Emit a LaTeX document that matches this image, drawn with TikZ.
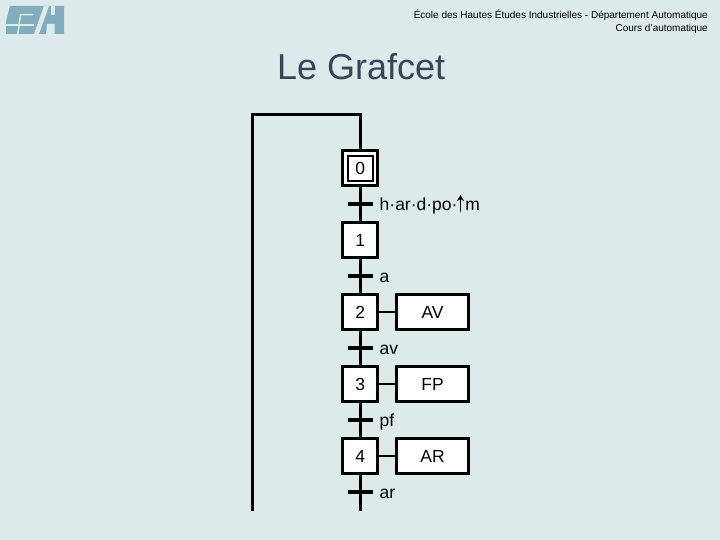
\documentclass[tikz,border=0pt]{standalone}
\usepackage{fontspec}
\usetikzlibrary{arrows.meta}
\setmainfont{Liberation Sans}
\definecolor{bgc}{HTML}{DDEAEA}
\definecolor{logoc}{HTML}{82ADBD}
\definecolor{titlec}{HTML}{3C425A}
\tikzset{
 stepbox/.style={draw=black,fill=white,line width=3pt,minimum width=35pt,minimum height=35pt,inner sep=0pt,font=\fontsize{17.5}{18}\selectfont},
 initbox/.style={draw=black,fill=white,line width=2pt,minimum width=24.6pt,minimum height=24.6pt,inner sep=0pt,font=\fontsize{17.5}{18}\selectfont},
 actbox/.style={draw=black,fill=white,line width=3pt,minimum width=71.7pt,minimum height=35pt,inner sep=0pt,font=\fontsize{17.5}{18}\selectfont},
 link/.style={line width=3pt,draw=black},
 thinlink/.style={line width=1.7pt,draw=black},
 trans/.style={line width=4.4pt,draw=black},
 cond/.style={anchor=west,inner sep=0pt,font=\fontsize{17.5}{18}\selectfont},
}
\begin{document}
\begin{tikzpicture}[x=1pt,y=-1pt]
\useasboundingbox (0,0) rectangle (720,540);
\fill[bgc] (0,0) rectangle (720,540);
% logo
\fill[logoc] (10,6) -- (64,6) -- (64,34) -- (6,34) -- (6,22) -- cycle;
\fill[bgc] (44,6) -- (49,6) -- (39,34) -- (34,34) -- cycle;
\fill[bgc] (6,24.5) -- (34,24.5) -- (34,26) -- (6,26) -- cycle;
\fill[bgc] (20,14) -- (33,14) -- (33,15.5) -- (19.7,15.5) -- cycle;
\fill[bgc] (20,14) -- (21.5,14) -- (18.5,34) -- (17,34) -- cycle;
\fill[bgc] (51,6) -- (54.5,6) -- (54.5,15) -- (51,15) -- cycle;
\fill[bgc] (47,24) -- (54.5,24) -- (54.5,34) -- (46,34) -- cycle;
% header
\node[anchor=north east,inner sep=0pt,align=right,font=\fontsize{10}{13}\selectfont] (head) at (708,9.5) {École des Hautes Études Industrielles - Département Automatique\\Cours d'automatique};
\node[anchor=west,inner sep=0pt,text=titlec,font=\fontsize{36}{40}\selectfont] (title) at (277,67) {Le Grafcet};
% steps
\node[stepbox] (s0) at (360.3,168.3) {};
\node[initbox] (s0i) at (360.3,168.3) {0};
\node[stepbox] (s1) at (360.3,240.3) {1};
\node[stepbox] (s2) at (360.3,312.3) {2};
\node[stepbox] (s3) at (360.3,384.3) {3};
\node[stepbox] (s4) at (360.3,456.3) {4};
\node[actbox] (a2) at (432.6,312.3) {AV};
\node[actbox] (a3) at (432.6,384.3) {FP};
\node[actbox] (a4) at (432.6,456.3) {AR};
\coordinate (top) at (360.3,114.3);
\coordinate (topl) at (252.7,114.3);
\coordinate (botl) at (252.7,511);
\coordinate (botr) at (360.3,511);
\draw[link,line join=miter] (s0.north) -- (top) -- (topl) -- (botl);
\draw[link] (s0.south) -- (s1.north);
\draw[link] (s1.south) -- (s2.north);
\draw[link] (s2.south) -- (s3.north);
\draw[link] (s3.south) -- (s4.north);
\draw[link] (s4.south) -- (botr);
\draw[thinlink] (s2.east) -- (a2.west);
\draw[thinlink] (s3.east) -- (a3.west);
\draw[thinlink] (s4.east) -- (a4.west);
% transitions
\coordinate (t0) at (360.3,204); \coordinate (t1) at (360.3,276); \coordinate (t2) at (360.3,348);
\coordinate (t3) at (360.3,420); \coordinate (t4) at (360.3,492);
\foreach \t in {t0,t1,t2,t3,t4}{\draw[trans] ([xshift=-12.3pt]\t) -- ([xshift=12.3pt]\t);}
\node[cond] (c0) at (379.5,206) {h·ar·d·po·\hspace{8pt}m};
\coordinate (upa) at (460.5,212);
\coordinate (upb) at (460.5,195);
\draw[line width=1.8pt,-{Stealth[length=6pt,width=7pt]}] (upa) -- (upb);
\node[cond] (c1) at (379.5,278) {a};
\node[cond] (c2) at (379.5,350) {av};
\node[cond] (c3) at (379.5,422) {pf};
\node[cond] (c4) at (379.5,494) {ar};
\end{tikzpicture}
\end{document}
